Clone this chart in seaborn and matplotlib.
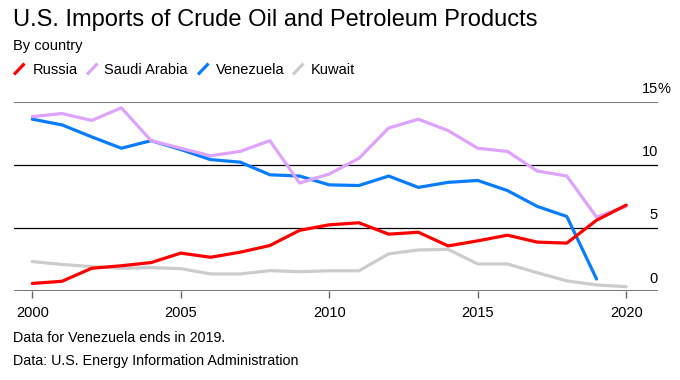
import matplotlib
matplotlib.use("Agg")
import matplotlib.pyplot as plt
import seaborn as sns
import pandas as pd
import numpy as np
from matplotlib.lines import Line2D

years = list(range(2000, 2021))
russia = [0.6, 0.77, 1.8, 2.0, 2.25, 3.0, 2.67, 3.07, 3.6, 4.8, 5.24, 5.4, 4.5, 4.65, 3.57, 3.97, 4.42, 3.87, 3.79, 5.6, 6.8]
saudi = [13.8, 14.05, 13.5, 14.5, 11.9, 11.3, 10.7, 11.05, 11.9, 8.55, 9.26, 10.5, 12.9, 13.6, 12.7, 11.3, 11.05, 9.5, 9.1, 5.85, 6.7]
venezuela = [13.6, 13.15, 12.2, 11.3, 11.9, 11.2, 10.4, 10.2, 9.2, 9.1, 8.4, 8.35, 9.1, 8.2, 8.6, 8.75, 7.95, 6.7, 5.9, 0.95, np.nan]
kuwait = [2.33, 2.1, 1.93, 1.8, 1.85, 1.77, 1.35, 1.35, 1.61, 1.53, 1.6, 1.6, 2.94, 3.25, 3.3, 2.14, 2.14, 1.45, 0.8, 0.48, 0.34]
countries = ["Russia", "Saudi Arabia", "Venezuela", "Kuwait"]
colors = ["#ff0000", "#dda3ff", "#0a7cff", "#cccccc"]
yticks = [0, 5, 10, 15]
xticks = [2000, 2005, 2010, 2015, 2020]

df = pd.DataFrame({
    "year": years * 4,
    "value": russia + saudi + venezuela + kuwait,
    "country": sum([[c] * len(years) for c in countries], []),
})

sns.set_theme(style="white")
plt.rcParams["font.family"] = ["Liberation Sans", "DejaVu Sans"]

W, H = 680, 380
fig = plt.figure(figsize=(6.8, 3.8), dpi=100)
ax = fig.add_axes([14 / W, 1 - 291 / H, (658 - 14) / W, (291 - 101.5) / H])

# gridlines
for v in yticks:
    if v == 15:
        ax.axhline(v, color="#7a7a7a", lw=1.5, zorder=1)
    elif v == 0:
        ax.axhline(v, color="#666666", lw=1.3, zorder=1)
    else:
        ax.axhline(v, color="#000000", lw=0.9, zorder=1)

order = countries[::-1]
sns.lineplot(data=df, x="year", y="value", hue="country", hue_order=order,
             palette=dict(zip(countries, colors)), linewidth=2.3, legend=False,
             ax=ax, zorder=3)

ax.set_xlim(1999.384, 2021.07)
ax.set_ylim(0, 15)
for s in ax.spines.values():
    s.set_visible(False)
ax.set_xlabel("")
ax.set_ylabel("")
ax.set_yticks([])
ax.set_xticks(xticks)
ax.set_xticklabels([str(x) for x in xticks], fontsize=10.5, color="#000000")
ax.tick_params(axis="x", length=5, width=1, color="#666666", pad=6, direction="out", bottom=True)

for v in yticks:
    ax.text(1.0, v + 0.66, str(v), transform=ax.get_yaxis_transform(),
            ha="right", va="baseline", fontsize=10.5, color="#000000")
ax.text(1.0, 15 + 0.66, "%", transform=ax.get_yaxis_transform(),
        ha="left", va="baseline", fontsize=10.5, color="#000000")

def fy(py):
    return 1 - py / H

fig.text(13 / W, fy(26), "U.S. Imports of Crude Oil and Petroleum Products",
         fontsize=17, color="#000000", ha="left", va="baseline")
fig.text(13 / W, fy(50), "By country", fontsize=10.5, color="#000000", ha="left", va="baseline")

slash_x = [14, 87, 198, 293]
text_x = [32.5, 104.3, 216, 310.7]
for c, col, sx, tx in zip(countries, colors, slash_x, text_x):
    fig.add_artist(Line2D([sx / W, (sx + 10.5) / W], [fy(74.5), fy(63.5)],
                          color=col, lw=2.3, solid_capstyle="butt"))
    fig.text(tx / W, fy(74), c, fontsize=10.5, color="#000000", ha="left", va="baseline")

fig.text(13 / W, fy(342), "Data for Venezuela ends in 2019.", fontsize=10.3,
         color="#000000", ha="left", va="baseline")
fig.text(13 / W, fy(365), "Data: U.S. Energy Information Administration", fontsize=10.3,
         color="#000000", ha="left", va="baseline")

fig.savefig("out.png", dpi=100, facecolor="white")
